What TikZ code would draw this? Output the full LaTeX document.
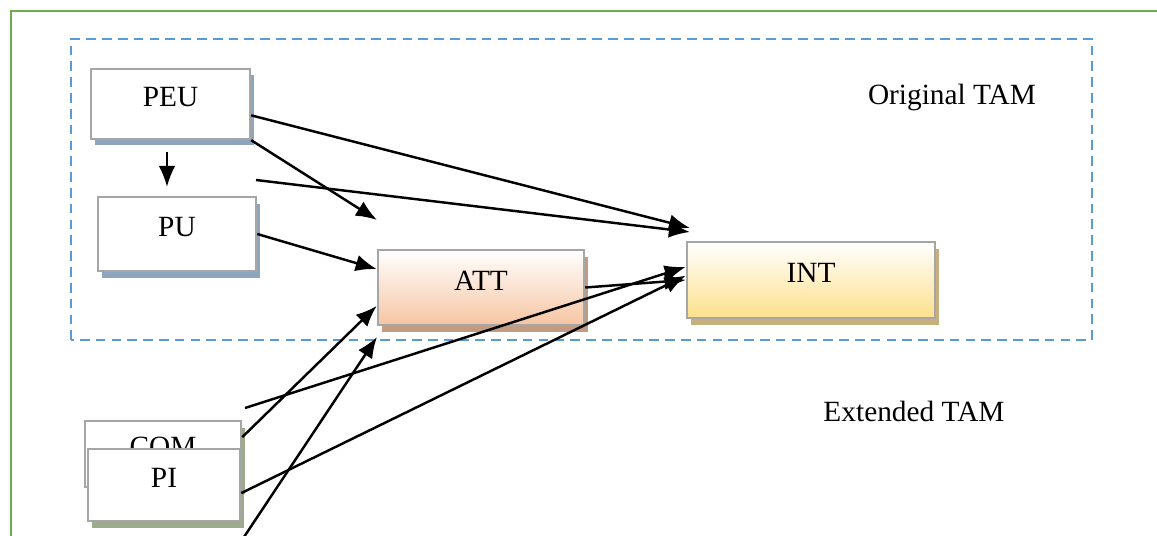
\documentclass[tikz,border=0pt]{standalone}
\usepackage{fontspec}
\setmainfont{Liberation Serif}
\usetikzlibrary{arrows.meta,shadows}
\definecolor{pageframe}{HTML}{70AD47}
\definecolor{tamline}{HTML}{5B9BD5}
\definecolor{boxline}{HTML}{A6A6A6}
\definecolor{blueshade}{HTML}{8EA5BF}
\definecolor{greenshade}{HTML}{9CAB8C}
\definecolor{attfill}{HTML}{F6C5A3}
\definecolor{attshade}{HTML}{C19C82}
\definecolor{intfill}{HTML}{FDE08C}
\definecolor{intshade}{HTML}{C6B07E}
\tikzset{
  box/.style={draw=boxline,line width=1.4pt,fill=white,
    text height=0.39cm,text depth=0.28cm,inner sep=0pt},
  shade/.style={drop shadow={shadow xshift=0.07cm,shadow yshift=-0.13cm,
    fill=#1,opacity=1}},
  link/.style={->,line width=1.4pt}
}
\begin{document}
\begin{tikzpicture}[>={Latex[length=12pt,width=9.5pt]},
  font=\fontsize{16.7pt}{20pt}\selectfont]
\useasboundingbox (0,0) rectangle (23.14,10.7);
% page frame and the dashed TAM region
\draw[pageframe,line width=1.6pt](0.22,-0.5)--(0.22,10.48)--(24,10.48);
\draw[tamline,line width=1.6pt,dash pattern=on 5.5pt off 3.5pt](1.42,3.9)rectangle(21.84,9.92);
\node at (19.04,8.76){Original TAM};
\node at (18.28,2.48){Extended TAM};
% constructs
\node[box,shade=blueshade,minimum width=3.18cm,minimum height=1.4cm](peu) at (3.41,8.62){PEU};
\node[box,shade=blueshade,minimum width=3.16cm,minimum height=1.48cm](pu) at (3.54,6.02){PU};
\node[box,shade=attshade,top color=white,bottom color=attfill,minimum width=4.12cm,minimum height=1.5cm](att) at (9.62,4.95){ATT};
\node[box,shade=intshade,top color=white,bottom color=intfill,minimum width=4.96cm,minimum height=1.52cm](int) at (16.22,5.1){INT};
\node[box,shade=greenshade,minimum width=3.12cm,minimum height=1.32cm](com) at (3.26,1.62){COM};
\node[box,shade=greenshade,minimum width=3.04cm,minimum height=1.44cm](pi) at (3.28,1.0){PI};
% free ends
\coordinate (a1) at (3.34,7.66);  \coordinate (b1) at (3.34,6.96);
\coordinate (a2) at (5.12,7.1);   \coordinate (a3) at (4.9,2.54);
\coordinate (a4) at (4.84,-0.1);
\coordinate (b2) at (13.8,6.14);  \coordinate (b3) at (7.54,6.3);
\coordinate (b4) at (13.8,6.06);  \coordinate (b5) at (7.54,3.96);
% paths
\draw[link](a1)--(b1);
\draw[link](peu.-8)--(b2);
\draw[link](peu.south east)--(b3);
\draw[link](a2)--(b4);
\draw[link](pu.east)--(att.170);
\draw[link](att.east)--(int.west);
\draw[link](a3)--(int.174);
\draw[link](com.12)--(att.190);
\draw[link](pi.-6)--(int.178);
\draw[link](a4)--(b5);
\end{tikzpicture}
\end{document}
